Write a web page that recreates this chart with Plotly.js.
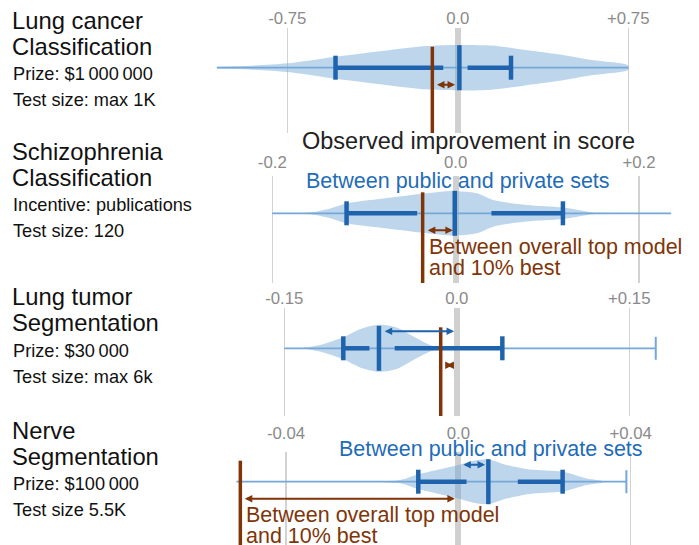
<!DOCTYPE html>
<html>
<head>
<meta charset="utf-8">
<script src="https://cdn.plot.ly/plotly-3.0.1.min.js"></script>
<style>html,body{margin:0;padding:0;background:#fff;}#chart{width:699px;height:545px;}</style>
</head>
<body>
<div id="chart"></div>
<script>
// ---------------- DATA ----------------
// Panel 1: Lung cancer classification
const p1TickVals = [-0.75, 0, 0.75];
const p1TickText = ['-0.75', '0.0', '+0.75'];
const p1ViolinX = [-1.06, -0.94, -0.75, -0.54, -0.43, -0.29, -0.14, 0.0, 0.15, 0.29, 0.44, 0.59, 0.75];
const p1ViolinD = [0.04, 0.07, 0.19, 0.48, 0.61, 0.78, 0.94, 0.99, 0.96, 0.78, 0.58, 0.33, 0.09];
const p1Range = [-1.06, 0.75];
const p1Stats = [-0.538, -0.064, 0.007, 0.043, 0.234];   // low whisker, q1, median, q3, high whisker
const p1TopModel = -0.112;
const p1TopArrow = [-0.098, -0.012];
const p1PubArrow = [0.003, -0.006];

// Panel 2: Schizophrenia classification
const p2TickVals = [-0.2, 0, 0.2];
const p2TickText = ['-0.2', '0.0', '+0.2'];
const p2ViolinX = [-0.2, -0.159, -0.141, -0.119, -0.086, -0.061, -0.039, -0.0025, 0.023, 0.041, 0.077, 0.117, 0.150, 0.168];
const p2ViolinD = [0.02, 0.04, 0.17, 0.43, 0.61, 0.73, 0.84, 0.97, 0.87, 0.58, 0.36, 0.25, 0.04, 0.01];
const p2Range = [-0.2, 0.235];
const p2Stats = [-0.119, -0.042, -0.001, 0.039, 0.117];
const p2TopModel = -0.036;
const p2TopArrow = [-0.032, -0.003];

// Panel 3: Lung tumor segmentation
const p3TickVals = [-0.15, 0, 0.15];
const p3TickText = ['-0.15', '0.0', '+0.15'];
const p3ViolinX = [-0.1335, -0.119, -0.0987, -0.0842, -0.0677, -0.0523, -0.0378, -0.0233, -0.0146];
const p3ViolinD = [0.02, 0.14, 0.48, 0.83, 1.02, 0.9, 0.51, 0.14, 0.02];
const p3Range = [-0.15, 0.173];
const p3Stats = [-0.0987, -0.076, -0.0677, -0.054, 0.0396];
const p3TopModel = -0.014;
const p3TopArrow = [-0.0103, -0.0036];
const p3PubArrow = [-0.064, -0.0024];

// Panel 4: Nerve segmentation
const p4TickVals = [-0.04, 0, 0.04];
const p4TickText = ['-0.04', '0.0', '+0.04'];
const p4ViolinX = [-0.01742, -0.01354, -0.0093, -0.00503, 0, 0.00348, 0.00696, 0.01121, 0.01663, 0.02421, 0.02978, 0.03365];
const p4ViolinD = [0.02, 0.07, 0.32, 0.51, 0.73, 0.91, 0.97, 0.73, 0.53, 0.43, 0.14, 0.02];
const p4Range = [-0.0515, 0.039];
const p4Stats = [-0.0093, 0.0019, 0.00696, 0.0138, 0.0242];
const p4TopModel = -0.0506;
const p4TopArrow = [-0.0499, -0.0008];
const p4PubArrow = [0.0008, 0.0062];

// Left-hand labels
const panelTitles = [['Lung cancer', 'Classification'], ['Schizophrenia', 'Classification'], ['Lung tumor', 'Segmentation'], ['Nerve', 'Segmentation']];
const panelInfo = [['Prize: $1\u2009000\u2009000', 'Test size: max 1K'], ['Incentive: publications', 'Test size: 120'], ['Prize: $30\u2009000', 'Test size: max 6k'], ['Prize: $100\u2009000', 'Test size 5.5K']];

const axisTitleText = 'Observed improvement in score';
const pubLabel = 'Between public and private sets';
const topLabel = ['Between overall top model', 'and 10% best'];

// ---------------- LAYOUT / STYLE ----------------
const W = 699, H = 545;
const PX_L = 200, PX_R = 690;
const geom = [
  {top: 28,  bottom: 133, center: 67.7,  zeroPx: 457.8,  ppu: 227.3,   standoff: 0},
  {top: 176, bottom: 283, center: 213.3, zeroPx: 455.65, ppu: 916.75,  standoff: 4},
  {top: 308, bottom: 416, center: 348.3, zeroPx: 456.8,  ppu: 1150,    standoff: 0},
  {top: 452, bottom: 545, center: 481.7, zeroPx: 458.35, ppu: 4308.75, standoff: 9}
];
const FONT = 'Liberation Sans, Arial, Helvetica, sans-serif';
const BLUE = '#1f63ad', BLUE_TXT = '#1f6cb8', THIN = '#75a8d8', FILL = 'rgba(120,170,215,0.48)';
const BROWN = '#7f3508';
const VHALF = 23, TICKH = 12, MEDH = 22.5, THICK = 4.5, ARROW_Y = 17, BROWN_TOP = 21;
const TXT = 21.5;

const panels = [
  {ticks: p1TickVals, tt: p1TickText, vx: p1ViolinX, vd: p1ViolinD, range: p1Range, stats: p1Stats, top: p1TopModel, topArrow: p1TopArrow, pubArrow: p1PubArrow, endTick: false},
  {ticks: p2TickVals, tt: p2TickText, vx: p2ViolinX, vd: p2ViolinD, range: p2Range, stats: p2Stats, top: p2TopModel, topArrow: p2TopArrow, pubArrow: null, endTick: false},
  {ticks: p3TickVals, tt: p3TickText, vx: p3ViolinX, vd: p3ViolinD, range: p3Range, stats: p3Stats, top: p3TopModel, topArrow: p3TopArrow, pubArrow: p3PubArrow, endTick: true},
  {ticks: p4TickVals, tt: p4TickText, vx: p4ViolinX, vd: p4ViolinD, range: p4Range, stats: p4Stats, top: p4TopModel, topArrow: p4TopArrow, pubArrow: p4PubArrow, endTick: true}
];

const traces = [];
const layout = {
  width: W, height: H,
  margin: {l: 0, r: 0, t: 0, b: 0},
  paper_bgcolor: '#fff', plot_bgcolor: 'rgba(0,0,0,0)',
  showlegend: false, hovermode: false,
  font: {family: FONT},
  annotations: []
};

panels.forEach((p, i) => {
  const g = geom[i];
  const n = i === 0 ? '' : String(i + 1);
  const xa = 'x' + n, ya = 'y' + n;
  const yMin = -(g.bottom - g.center), yMax = g.center - g.top;

  layout['xaxis' + n] = {
    domain: [PX_L / W, PX_R / W],
    range: [(PX_L - g.zeroPx) / g.ppu, (PX_R - g.zeroPx) / g.ppu],
    anchor: ya, side: 'top',
    tickmode: 'array', tickvals: p.ticks, ticktext: p.tt,
    tickfont: {size: 16.8, color: '#8a8a8a', family: FONT},
    ticks: '', ticklabelstandoff: g.standoff,
    showgrid: true, gridcolor: '#d2d2d2', gridwidth: 1.5,
    zeroline: true, zerolinecolor: '#d0d0d0', zerolinewidth: 6,
    showline: false, fixedrange: true
  };
  layout['yaxis' + n] = {
    domain: [1 - g.bottom / H, 1 - g.top / H],
    range: [yMin, yMax], anchor: xa,
    visible: false, showgrid: false, zeroline: false, fixedrange: true
  };

  // violin body
  const xs = p.vx.concat(p.vx.slice().reverse());
  const ys = p.vd.map(d => d * VHALF).concat(p.vd.slice().reverse().map(d => -d * VHALF));
  traces.push({x: xs, y: ys, xaxis: xa, yaxis: ya, type: 'scatter', mode: 'lines', fill: 'toself',
    fillcolor: FILL, line: {width: 0, shape: 'spline', smoothing: 0.8}, hoverinfo: 'skip'});

  // full range thin line
  traces.push({x: p.range, y: [0, 0], xaxis: xa, yaxis: ya, type: 'scatter', mode: 'lines',
    line: {color: THIN, width: 1.8}, hoverinfo: 'skip'});
  if (p.endTick) {
    traces.push({x: [p.range[1], p.range[1]], y: [-11.5, 11.5], xaxis: xa, yaxis: ya, type: 'scatter', mode: 'lines',
      line: {color: THIN, width: 2}, hoverinfo: 'skip'});
  }

  const s = p.stats;
  [[s[0], s[1]], [s[3], s[4]]].forEach(seg => {
    traces.push({x: seg, y: [0, 0], xaxis: xa, yaxis: ya, type: 'scatter', mode: 'lines',
      line: {color: BLUE, width: THICK}, hoverinfo: 'skip'});
  });
  [s[0], s[4]].forEach(v => {
    traces.push({x: [v, v], y: [-TICKH, TICKH], xaxis: xa, yaxis: ya, type: 'scatter', mode: 'lines',
      line: {color: BLUE, width: THICK}, hoverinfo: 'skip'});
  });
  traces.push({x: [s[2], s[2]], y: [-MEDH, MEDH], xaxis: xa, yaxis: ya, type: 'scatter', mode: 'lines',
    line: {color: BLUE, width: THICK}, hoverinfo: 'skip'});
  traces.push({x: [p.top, p.top], y: [BROWN_TOP, yMin], xaxis: xa, yaxis: ya, type: 'scatter', mode: 'lines',
    line: {color: BROWN, width: 3.5}, hoverinfo: 'skip'});

  const arrow = (a, yv, color) => ({
    xref: xa, yref: ya, axref: xa, ayref: ya,
    x: a[1], y: yv, ax: a[0], ay: yv, text: '', showarrow: true,
    arrowside: 'end+start', arrowhead: 2, startarrowhead: 2, arrowsize: 0.75, startarrowsize: 0.75,
    arrowwidth: 2, arrowcolor: color, standoff: 0, startstandoff: 0
  });
  layout.annotations.push(arrow(p.topArrow, -ARROW_Y, BROWN));
  if (p.pubArrow) layout.annotations.push(arrow(p.pubArrow, ARROW_Y, BLUE));
});

// Left labels (cap-centre pixel positions)
const titleY = [[20.7, 46.7], [151, 177.5], [296.5, 322.5], [430, 456.2]];
const infoY = [[74.3, 100.3], [205.3, 231.3], [351.2, 376.7], [484, 509.7]];
const textAnn = (txt, xpx, ypx, size, color, xanchor) => ({
  xref: 'paper', yref: 'paper', x: xpx / W, y: 1 - ypx / H, text: txt, showarrow: false,
  xanchor: xanchor || 'left', yanchor: 'middle', font: {family: FONT, size: size, color: color}
});
panelTitles.forEach((t, i) => {
  t.forEach((line, j) => layout.annotations.push(textAnn(line, 10, titleY[i][j], 23.8, '#111')));
  panelInfo[i].forEach((line, j) => layout.annotations.push(textAnn(line, 10.5, infoY[i][j], 18.2, '#111')));
});

// Text in plot area
layout.annotations.push(textAnn(axisTitleText, 468, 141.2, 23.5, '#222', 'center'));
layout.annotations.push(textAnn(pubLabel, 458, 181, TXT, BLUE_TXT, 'center'));
layout.annotations.push(textAnn(pubLabel, 490.8, 448.5, TXT, BLUE_TXT, 'center'));
layout.annotations.push(textAnn(topLabel[0], 426.5, 247, TXT, BROWN));
layout.annotations.push(textAnn(topLabel[1], 426.5, 267.8, TXT, BROWN));
layout.annotations.push(textAnn(topLabel[0], 243.5, 514.5, TXT, BROWN));
layout.annotations.push(textAnn(topLabel[1], 243.5, 535.5, TXT, BROWN));

Plotly.newPlot('chart', traces, layout, {staticPlot: true, displayModeBar: false});
</script>
</body>
</html>
